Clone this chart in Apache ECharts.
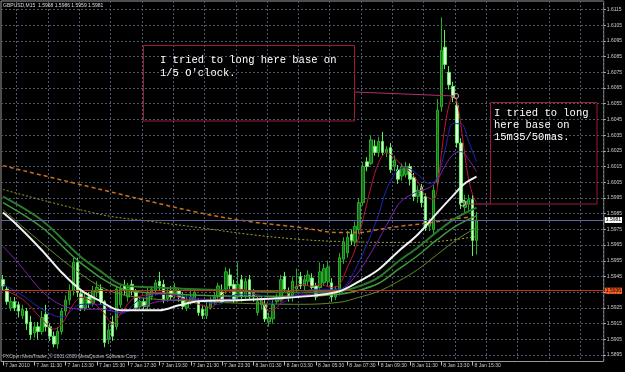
<!DOCTYPE html>
<html><head><meta charset="utf-8">
<script src="https://cdn.jsdelivr.net/npm/echarts@6/dist/echarts.min.js"></script>
<style>html,body{margin:0;padding:0;background:#000}#c{width:625px;height:372px}</style>
</head><body><div id="c"></div>
<script>
// ---- data (GBPUSD M15, 7 Jan 09:30 .. 8 Jan 15:45) ----
const openP = [1.5943,1.5937,1.5925,1.5929,1.5927,1.5920,1.5923,1.5916,1.5909,1.5913,
1.5910,1.5921,1.5913,1.5907,1.5902,1.5910,1.5923,1.5930,1.5936,1.5954,
1.5934,1.5925,1.5932,1.5928,1.5935,1.5937,1.5929,1.5905,1.5916,1.5913,
1.5927,1.5939,1.5932,1.5940,1.5935,1.5926,1.5929,1.5926,1.5932,1.5936,
1.5942,1.5940,1.5931,1.5936,1.5934,1.5936,1.5932,1.5925,1.5929,1.5930,
1.5929,1.5924,1.5920,1.5925,1.5929,1.5932,1.5935,1.5937,1.5946,1.5940,
1.5932,1.5943,1.5932,1.5943,1.5935,1.5922,1.5927,1.5927,1.5916,1.5918,
1.5929,1.5930,1.5945,1.5936,1.5932,1.5937,1.5945,1.5939,1.5942,1.5944,
1.5939,1.5938,1.5941,1.5942,1.5941,1.5932,1.5935,1.5956,1.5960,1.5972,
1.5967,1.5975,1.5992,1.6018,1.6017,1.6028,1.6024,1.6031,1.6024,1.6027,
1.6015,1.6013,1.6009,1.6010,1.6015,1.6008,1.5996,1.6002,1.5996,1.5977,
1.5975,1.6005,1.6053,1.6091,1.6075,1.6066,1.6054,1.6030,1.5989,1.5991,
1.5994,1.5968];
const closeP = [1.5939,1.5929,1.5929,1.5925,1.5923,1.5924,1.5915,1.5908,1.5913,1.5910,
1.5919,1.5913,1.5907,1.5902,1.5910,1.5923,1.5930,1.5936,1.5954,1.5935,
1.5925,1.5932,1.5928,1.5936,1.5938,1.5929,1.5903,1.5911,1.5907,1.5937,
1.5937,1.5936,1.5938,1.5936,1.5925,1.5929,1.5926,1.5935,1.5937,1.5941,
1.5939,1.5930,1.5935,1.5932,1.5938,1.5932,1.5926,1.5930,1.5932,1.5935,
1.5922,1.5920,1.5926,1.5929,1.5932,1.5939,1.5929,1.5948,1.5939,1.5930,
1.5940,1.5932,1.5942,1.5932,1.5932,1.5929,1.5930,1.5918,1.5919,1.5927,
1.5931,1.5943,1.5937,1.5932,1.5942,1.5939,1.5939,1.5943,1.5946,1.5938,
1.5932,1.5948,1.5950,1.5951,1.5932,1.5937,1.5957,1.5967,1.5970,1.5968,
1.5977,1.5992,1.6015,1.6015,1.6032,1.6024,1.6031,1.6024,1.6026,1.6013,
1.6019,1.6007,1.6015,1.6015,1.6007,1.5996,1.6000,1.5992,1.5976,1.5979,
1.6000,1.6051,1.6089,1.6080,1.6067,1.6059,1.6030,1.5992,1.5993,1.5994,
1.5968,1.5981];
const highP = [1.5946,1.5939,1.5932,1.5932,1.5929,1.5927,1.5925,1.5920,1.5916,1.5916,
1.5923,1.5927,1.5915,1.5910,1.5913,1.5925,1.5933,1.5940,1.5957,1.5957,
1.5937,1.5934,1.5935,1.5939,1.5942,1.5940,1.5930,1.5915,1.5920,1.5939,
1.5940,1.5943,1.5941,1.5943,1.5937,1.5932,1.5932,1.5938,1.5939,1.5943,
1.5948,1.5943,1.5937,1.5939,1.5941,1.5938,1.5935,1.5933,1.5936,1.5937,
1.5931,1.5927,1.5929,1.5932,1.5935,1.5941,1.5940,1.5951,1.5950,1.5943,
1.5954,1.5946,1.5944,1.5946,1.5937,1.5932,1.5933,1.5930,1.5922,1.5930,
1.5934,1.5946,1.5948,1.5938,1.5945,1.5950,1.5948,1.5946,1.5949,1.5947,
1.5941,1.5954,1.5953,1.5955,1.5944,1.5939,1.5960,1.5970,1.5974,1.5975,
1.5980,1.5995,1.6018,1.6021,1.6035,1.6032,1.6034,1.6037,1.6028,1.6030,
1.6022,1.6016,1.6017,1.6018,1.6017,1.6011,1.6003,1.6004,1.5998,1.5982,
1.6003,1.6058,1.6110,1.6102,1.6079,1.6069,1.6058,1.6033,1.5997,1.5997,
1.5997,1.5986];
const lowP = [1.5936,1.5927,1.5923,1.5923,1.5919,1.5918,1.5911,1.5905,1.5906,1.5905,
1.5908,1.5910,1.5904,1.5900,1.5899,1.5908,1.5920,1.5927,1.5933,1.5932,
1.5923,1.5923,1.5925,1.5926,1.5932,1.5927,1.5900,1.5902,1.5904,1.5911,
1.5925,1.5933,1.5929,1.5933,1.5923,1.5924,1.5924,1.5924,1.5930,1.5933,
1.5936,1.5928,1.5929,1.5930,1.5931,1.5929,1.5924,1.5923,1.5927,1.5928,
1.5920,1.5918,1.5918,1.5924,1.5927,1.5930,1.5928,1.5934,1.5937,1.5928,
1.5929,1.5929,1.5930,1.5930,1.5929,1.5920,1.5924,1.5916,1.5913,1.5915,
1.5927,1.5929,1.5935,1.5929,1.5929,1.5935,1.5937,1.5936,1.5939,1.5936,
1.5930,1.5936,1.5939,1.5939,1.5929,1.5930,1.5933,1.5953,1.5957,1.5965,
1.5964,1.5972,1.5990,1.6012,1.6016,1.6022,1.6021,1.6022,1.6021,1.6011,
1.6012,1.6004,1.6006,1.6008,1.6003,1.5993,1.5992,1.5989,1.5974,1.5974,
1.5971,1.6002,1.6050,1.6077,1.6064,1.6056,1.6027,1.5988,1.5985,1.5986,
1.5958,1.5959];

// moving averages: [bar index, price]
const maRed = [[0,1.59369],[5,1.59305],[10,1.59178],[13,1.59115],[15,1.59146],[18,1.59273],[20,1.59318],[23,1.59286],[26,1.5921],[28,1.59146],[30,1.5921],[33,1.59305],[36,1.5933],[40,1.59349],[45,1.59318],[50,1.59273],[53,1.59254],[57,1.59356],[60,1.59369],[63,1.59356],[66,1.59305],[68,1.59229],[70,1.59254],[73,1.59343],[76,1.594],[79,1.59388],[81,1.594],[84,1.59381],[86,1.594],[88,1.59508],[90,1.59623],[92,1.59813],[94,1.60016],[96,1.60175],[98,1.60238],[100,1.60207],[102,1.60156],[104,1.60118],[106,1.60054],[108,1.59965],[110,1.5994],[111,1.60016],[112,1.60226],[113,1.60416],[114,1.60543],[115,1.606],[116,1.60562],[117,1.60416],[118,1.60226],[119,1.60067],[120,1.59972],[121,1.59921]];
const maBlue = [[0,1.594],[5,1.5933],[10,1.59242],[15,1.59191],[20,1.59273],[25,1.59273],[30,1.5921],[35,1.59305],[40,1.59337],[45,1.5933],[50,1.59305],[55,1.59273],[60,1.59337],[65,1.59337],[70,1.59273],[75,1.59337],[80,1.59369],[86,1.59369],[88,1.59407],[91,1.59546],[93,1.59654],[96,1.59845],[98,1.60004],[101,1.60131],[103,1.60143],[106,1.60099],[109,1.60042],[111,1.6008],[113,1.60258],[115,1.60423],[117,1.60423],[119,1.60308],[121,1.60181]];
const maPurple = [[0,1.59642],[4,1.59534],[10,1.59356],[15,1.59267],[20,1.59242],[25,1.59242],[30,1.59222],[35,1.59254],[40,1.59292],[50,1.59305],[60,1.59305],[70,1.59305],[76,1.5933],[86,1.59356],[88,1.59394],[91,1.59483],[93,1.59559],[96,1.59686],[98,1.59775],[101,1.59908],[103,1.59953],[106,1.59991],[109,1.60016],[111,1.60067],[113,1.60156],[115,1.60226],[117,1.60245],[119,1.60194],[121,1.60118]];
const maWhite = [[0,1.59857],[4,1.59769],[10,1.59616],[15,1.59476],[20,1.59362],[25,1.59292],[30,1.59235],[40,1.59235],[45,1.59267],[50,1.59292],[60,1.59299],[70,1.59311],[80,1.5933],[86,1.59356],[91,1.59419],[96,1.59495],[101,1.5961],[106,1.59718],[111,1.59857],[115,1.59965],[118,1.60042],[121,1.60086]];
const maGreen1 = [[0,1.59959],[10,1.59807],[20,1.59572],[25,1.59483],[30,1.594],[38,1.59381],[50,1.59369],[63,1.59356],[76,1.59349],[86,1.59356],[91,1.59388],[96,1.59445],[101,1.59546],[106,1.59635],[111,1.59737],[116,1.59826],[121,1.59889]];
const maGreen2 = [[0,1.59921],[10,1.59762],[20,1.59534],[30,1.59375],[40,1.59343],[50,1.5933],[63,1.59324],[76,1.59324],[86,1.59337],[91,1.59362],[96,1.59407],[101,1.59495],[106,1.59584],[111,1.59686],[116,1.59775],[121,1.59838]];
const maOlive = [[0,1.59876],[20,1.59464],[30,1.59337],[50,1.59292],[76,1.59273],[86,1.59286],[91,1.59318],[96,1.59356],[101,1.59419],[106,1.59495],[111,1.59591],[116,1.59686],[121,1.59762]];
const maOrange = [[0,1.60156],[25,1.60004],[50,1.59857],[63,1.598],[76,1.59762],[86,1.5973],[91,1.5973],[96,1.59749],[101,1.59769],[108,1.59788],[116,1.59819],[121,1.59832]];
const maYellow = [[0,1.60004],[25,1.59845],[38,1.598],[50,1.59762],[63,1.59718],[76,1.59686],[86,1.59673],[101,1.59667],[111,1.59673],[121,1.59705]];

const xTickLabels = ["7 Jan 2010","7 Jan 11:30","7 Jan 13:30","7 Jan 15:30","7 Jan 17:30","7 Jan 19:30","7 Jan 21:30","7 Jan 23:30","8 Jan 01:30","8 Jan 03:30","8 Jan 05:30","8 Jan 07:30","8 Jan 09:30","8 Jan 11:30","8 Jan 13:30","8 Jan 15:30"];
const yTicks = [1.5895,1.5905,1.5915,1.5925,1.5935,1.5945,1.5955,1.5965,1.5975,1.5985,1.5995,1.6005,1.6015,1.6025,1.6035,1.6045,1.6055,1.6065,1.6075,1.6085,1.6095,1.6105,1.6115];
const bidPrice = 1.5981;
const levelPrice = 1.5936;
const titleText = "GBPUSD,M15  1.5968 1.5986 1.5959 1.5981";
const copyText = "FXOpen MetaTrader, \u00a9 2001-2009 MetaQuotes Software Corp.";
const note1 = ["I tried to long here base on", "1/5 O'clock."];
const note2 = ["I tried to long", "here base on", "15m35/50mas."];
const totalSlots = 154;

// ---- build ----
const cats = [];
for (let i = 0; i < totalSlots; i++) cats.push(String(i));
const candles = openP.map((o, i) => [o, closeP[i], lowP[i], highP[i]]);

const chart = echarts.init(document.getElementById('c'), null, {renderer: 'canvas'});
const gridCol = '#4a5670';
const smallFont = 'Liberation Sans';
function ma(data, color, width, type, z) {
  return {type: 'line', data: data, showSymbol: false, symbol: 'none', smooth: 0.35,
    lineStyle: {color: color, width: width, type: type || 'solid'}, z: z || 4, silent: true};
}
const levelLines = {symbol: ['none', 'none'], silent: true, animation: false, precision: 4,
  data: [
    {yAxis: bidPrice, lineStyle: {color: '#5a64a8', width: 1, type: 'solid'},
      label: {show: true, position: 'end', distance: 1, formatter: bidPrice.toFixed(4), backgroundColor: '#ffffff', color: '#000000', fontSize: 5, padding: [1, 1, 0, 1], fontFamily: smallFont}},
    {yAxis: levelPrice, lineStyle: {color: '#c83410', width: 1, type: 'solid'},
      label: {show: true, position: 'end', distance: 1, formatter: levelPrice.toFixed(4), backgroundColor: '#ff5a1e', color: '#000000', fontSize: 5, padding: [1, 1, 0, 1], fontFamily: smallFont}}
  ]};
const yellowSeries = ma(maYellow, '#a0a028', 1, [2, 2], 2);
yellowSeries.markLine = levelLines;

chart.setOption({
  backgroundColor: '#000000',
  animation: false,
  grid: {left: 1, right: 19, top: 1, bottom: 10.5, show: true, borderColor: '#9a9a9a', borderWidth: 1},
  xAxis: {
    type: 'category', data: cats, boundaryGap: true,
    axisLine: {show: false},
    axisTick: {show: true, alignWithLabel: true, length: 4, interval: (i) => i % 8 === 0 && i / 8 < xTickLabels.length, lineStyle: {color: '#bbbbbb'}},
    axisLabel: {interval: (i) => i % 8 === 0 && i / 8 < xTickLabels.length, formatter: (v, i) => xTickLabels[i / 8] || '',
      align: 'left', fontSize: 5, color: '#cccccc', margin: 2, padding: [0, 0, 0, 2], fontFamily: smallFont},
    splitLine: {show: true, interval: (i) => i % 8 === 4, lineStyle: {color: gridCol, type: [2, 2], width: 1}}
  },
  yAxis: {
    type: 'value', position: 'right', min: 1.58909, max: 1.61204, scale: true,
    axisLine: {show: false},
    axisTick: {show: true, length: 2, customValues: yTicks, lineStyle: {color: '#bbbbbb'}},
    axisLabel: {customValues: yTicks, formatter: (v) => v.toFixed(4), fontSize: 5, color: '#cccccc', margin: 3, fontFamily: smallFont},
    splitLine: {show: true, lineStyle: {color: gridCol, type: [2, 2], width: 1}}
  },
  series: [
    yellowSeries,
    {type: 'candlestick', data: candles, barWidth: 3, z: 3,
      itemStyle: {color: '#1f6b1f', color0: '#d8ffd0', borderColor: '#22b022', borderColor0: '#5cf05c', borderWidth: 1}},
    ma(maOrange, '#c8701e', 1.5, [4, 3]),
    ma(maOlive, '#5f8a25', 1),
    ma(maGreen2, '#3c9a3c', 1.5),
    ma(maGreen1, '#2a7a2a', 2),
    ma(maPurple, '#7d22b4', 1),
    ma(maBlue, '#2424b8', 1),
    ma(maRed, '#c0143a', 1),
    ma(maWhite, '#f2f2f2', 2, 'solid', 5)
  ],
  graphic: [
    {type: 'text', left: 3, top: 3, z: 10, style: {text: titleText, fill: '#dddddd', fontSize: 5, fontFamily: smallFont}},
    {type: 'text', left: 3, top: 354, z: 10, style: {text: copyText, fill: '#bbbbbb', fontSize: 4.8, fontFamily: smallFont}},
    {type: 'rect', z: 10, shape: {x: 143.5, y: 45.5, width: 211, height: 75.5}, style: {fill: 'transparent', stroke: '#a0183a', lineWidth: 1}},
    {type: 'text', z: 10, left: 160, top: 54, style: {text: note1.join('\n'), fill: '#ffffff', fontSize: 10.5, lineHeight: 13, fontFamily: 'Liberation Mono'}},
    {type: 'line', z: 10, shape: {x1: 355, y1: 92, x2: 454, y2: 96}, style: {stroke: '#b03068', lineWidth: 1}},
    {type: 'circle', z: 10, shape: {cx: 456, cy: 96, r: 2.5}, style: {fill: 'none', stroke: '#d8a0b8', lineWidth: 1}},
    {type: 'rect', z: 10, shape: {x: 490.5, y: 102.5, width: 106.5, height: 101.5}, style: {fill: 'transparent', stroke: '#a0183a', lineWidth: 1}},
    {type: 'text', z: 10, left: 494, top: 107, style: {text: note2.join('\n'), fill: '#ffffff', fontSize: 10.5, lineHeight: 12, fontFamily: 'Liberation Mono'}},
    {type: 'line', z: 10, shape: {x1: 465, y1: 204, x2: 490, y2: 204}, style: {stroke: '#b03068', lineWidth: 1}},
    {type: 'circle', z: 10, shape: {cx: 462.5, cy: 203, r: 3}, style: {fill: 'none', stroke: '#d8d0d0', lineWidth: 1}}
  ]
});
</script></body></html>
